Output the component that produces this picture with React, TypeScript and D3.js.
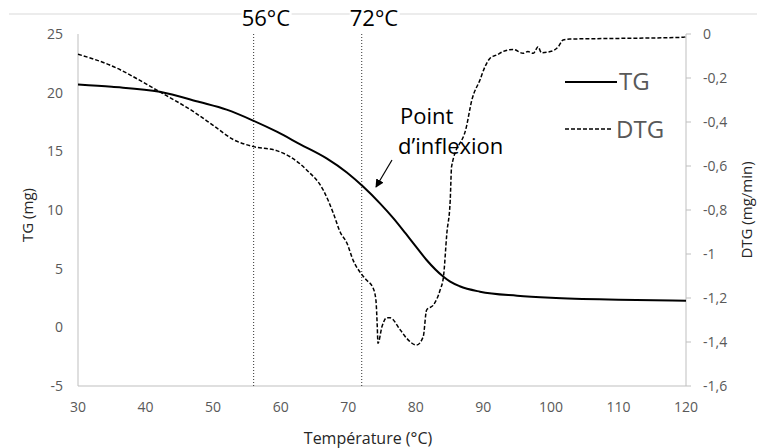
import * as d3 from "d3";

// Température (°C) axis
const xTicks = [30, 40, 50, 60, 70, 80, 90, 100, 110, 120];
const tgTicks = [-5, 0, 5, 10, 15, 20, 25];
const dtgTicks = [0, -0.2, -0.4, -0.6, -0.8, -1, -1.2, -1.4, -1.6];

// TG (mg)
const tgTemp = [30, 35, 42.1, 48, 52, 56, 59.5, 62.9, 66.8, 69.8, 72.2, 74.7, 76.7, 78.5, 80, 81.6, 84.1, 85.1, 86.5, 89.5, 95, 100, 110, 120];
const tgMass = [20.7, 20.5, 20.08, 19.2, 18.55, 17.6, 16.65, 15.6, 14.4, 13.2, 12.0, 10.57, 9.29, 8.0, 6.9, 5.74, 4.31, 3.89, 3.5, 3.04, 2.7, 2.52, 2.35, 2.27];

// DTG (mg/min)
const dtgTemp = [30, 34.7, 42.1, 47.1, 50, 53, 56, 59.4, 61.4, 63.85, 66.3, 67.8, 68.8, 69.8, 70.75, 72.0, 72.7, 73.7, 74.1, 74.3, 74.4, 75.0, 75.7, 76.2, 77.7, 78.65, 80.1, 81.1, 81.6, 82.6, 83.6, 84.1, 84.6, 85.1, 85.3, 87.5, 88.3, 89.5, 90.25, 91, 92, 92.9, 94.4, 95.9, 96.6, 97.4, 98.1, 98.6, 99.9, 101.1, 101.8, 102.8, 110, 119.6, 120];
const dtgRate = [-0.092, -0.141, -0.263, -0.353, -0.415, -0.48, -0.512, -0.53, -0.558, -0.618, -0.709, -0.815, -0.9, -0.95, -1.03, -1.093, -1.118, -1.156, -1.21, -1.33, -1.406, -1.33, -1.29, -1.29, -1.345, -1.383, -1.414, -1.376, -1.255, -1.232, -1.164, -1.103, -0.906, -0.755, -0.603, -0.421, -0.3, -0.209, -0.148, -0.11, -0.095, -0.08, -0.07, -0.088, -0.08, -0.088, -0.058, -0.085, -0.08, -0.058, -0.027, -0.023, -0.02, -0.015, -0.012];

const markers = [56, 72];

const W = 757;
const H = 448;
const m = { left: 78, right: 686, top: 34, bottom: 386 };
const font = "'Open Sans', sans-serif";

const fmt = (v: number) => String(v).replace(".", ",");

export default function App() {
  const x = d3.scaleLinear().domain([30, 120]).range([m.left, m.right]);
  const yTG = d3.scaleLinear().domain([-5, 25]).range([m.bottom, m.top]);
  const yDTG = d3.scaleLinear().domain([-1.6, 0]).range([m.bottom, m.top]);

  const tgLine = d3
    .line<number>()
    .x((d, i) => x(tgTemp[i]))
    .y((d) => yTG(d))
    .curve(d3.curveMonotoneX);
  const dtgLine = d3
    .line<number>()
    .x((d, i) => x(dtgTemp[i]))
    .y((d) => yDTG(d))
    .curve(d3.curveMonotoneX);

  return (
    <svg
      width={W}
      height={H}
      style={{ position: "absolute", left: 0, top: 0, background: "#fff" }}
      fontFamily={font}
    >
      <defs>
        <marker id="arrow" viewBox="0 0 10 10" refX="9" refY="5" markerWidth="7" markerHeight="7" orient="auto">
          <path d="M0,0 L10,5 L0,10 z" fill="#000" />
        </marker>
      </defs>
      <line x1={9} x2={W} y1={14} y2={14} stroke="#d9d9d9" />

      {/* axes */}
      <line x1={m.left} x2={m.left} y1={m.top} y2={m.bottom} stroke="#bfbfbf" />
      <line x1={m.right} x2={m.right} y1={m.top} y2={m.bottom} stroke="#bfbfbf" />
      <line x1={m.left} x2={m.right} y1={m.bottom} y2={m.bottom} stroke="#bfbfbf" />

      {xTicks.map((t) => (
        <text key={t} x={x(t)} y={m.bottom + 26} textAnchor="middle" fontSize={14} fill="#595959">
          {t}
        </text>
      ))}
      {tgTicks.map((t) => (
        <text key={t} x={m.left - 15} y={yTG(t) + 5} textAnchor="end" fontSize={14} fill="#595959">
          {t}
        </text>
      ))}
      {dtgTicks.map((t) => (
        <g key={t}>
          <line x1={m.right} x2={m.right + 5} y1={yDTG(t)} y2={yDTG(t)} stroke="#bfbfbf" />
          <text x={m.right + 17} y={yDTG(t) + 5} fontSize={14} fill="#595959">
            {fmt(t)}
          </text>
        </g>
      ))}

      <text x={368} y={444} textAnchor="middle" fontSize={16} fill="#262626">
        Température (°C)
      </text>
      <text transform={`translate(33,215) rotate(-90)`} textAnchor="middle" fontSize={15} fill="#262626">
        TG (mg)
      </text>
      <text transform={`translate(752,210) rotate(-90)`} textAnchor="middle" fontSize={15} fill="#262626">
        DTG (mg/min)
      </text>

      {/* marker lines */}
      {markers.map((t) => (
        <g key={t}>
          <line x1={x(t)} x2={x(t)} y1={m.top} y2={m.bottom + 1} stroke="#333" strokeDasharray="1,2" />
          <rect x={x(t) - 12} y={4} width={50} height={22} fill="#fff" />
          <text x={x(t) - 12} y={26} fontSize={22} fill="#000">
            {t}°C
          </text>
        </g>
      ))}

      <path d={tgLine(tgMass) ?? ""} fill="none" stroke="#000" strokeWidth={2} />
      <path d={dtgLine(dtgRate) ?? ""} fill="none" stroke="#000" strokeWidth={1.5} strokeDasharray="4,2" />

      {/* annotation */}
      <text x={400} y={124} fontSize={22} fill="#000">Point</text>
      <text x={398} y={154} fontSize={22} fill="#000">d’inflexion</text>
      <line x1={392} y1={160} x2={376} y2={187} stroke="#000" strokeWidth={1.2} markerEnd="url(#arrow)" />

      {/* legend */}
      <line x1={565} x2={617} y1={82} y2={82} stroke="#000" strokeWidth={2} />
      <text x={619} y={90} fontSize={24} fill="#595959">TG</text>
      <line x1={565} x2={613} y1={129} y2={129} stroke="#000" strokeWidth={1.5} strokeDasharray="4,2" />
      <text x={616} y={138} fontSize={24} fill="#595959">DTG</text>
    </svg>
  );
}
